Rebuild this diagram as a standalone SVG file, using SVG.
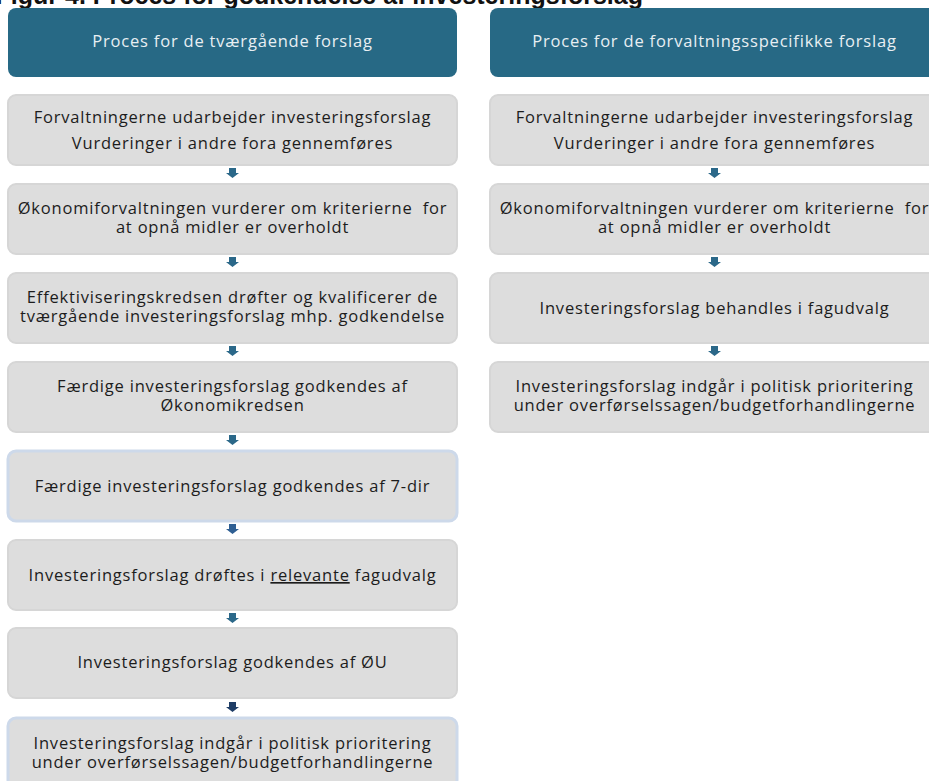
<svg xmlns="http://www.w3.org/2000/svg" width="929" height="781" viewBox="0 0 929 781">
<style>
.title{font-family:"Liberation Sans",Arial,sans-serif;font-weight:bold;font-size:25px;fill:#111}
.hdr{fill:#276985}
.hdrt{font-family:"Open Sans","Noto Sans",sans-serif;font-size:16.5px;letter-spacing:0.8px;fill:#e8eff3;text-anchor:middle}
.box{fill:#dddddd;stroke:#d6d6d6;stroke-width:2}
.boxb{fill:#dddddd;stroke:#cdd9ea;stroke-width:3}
.t{font-family:"Open Sans","Noto Sans",sans-serif;font-size:16.5px;letter-spacing:0.8px;fill:#1c1c1c;text-anchor:middle}
.arr{fill:#2b6889}
</style>
<defs>
<path id="ar" d="M-3.5,-5 H3.5 V0 H6.5 L0,5 L-6.5,0 H-3.5 Z"/>
</defs>
<text class="title" x="643" y="4" text-anchor="end">Figur 4. Proces for godkendelse af investeringsforslag</text>

<g id="header-left"><rect class="hdr" x="8" y="8" width="449" height="69" rx="8"/><text class="hdrt" x="232.5" y="47">Proces for de tværgående forslag</text></g>
<g id="header-right"><rect class="hdr" x="490" y="8" width="449" height="69" rx="8"/><text class="hdrt" x="714.5" y="47">Proces for de forvaltningsspecifikke forslag</text></g>

<g id="l1"><rect class="box" x="8" y="95" width="449" height="70" rx="8"/><text class="t" x="232.5" y="123">Forvaltningerne udarbejder investeringsforslag</text><text class="t" x="232.5" y="149">Vurderinger i andre fora gennemføres</text></g>
<g id="l2"><rect class="box" x="8" y="184" width="449" height="70" rx="8"/><text class="t" x="232.5" y="214" xml:space="preserve">Økonomiforvaltningen vurderer om kriterierne  for</text><text class="t" x="232.5" y="233">at opnå midler er overholdt</text></g>
<g id="l3"><rect class="box" x="8" y="273" width="449" height="70" rx="8"/><text class="t" x="232.5" y="303">Effektiviseringskredsen drøfter og kvalificerer de</text><text class="t" x="232.5" y="322">tværgående investeringsforslag mhp. godkendelse</text></g>
<g id="l4"><rect class="box" x="8" y="362" width="449" height="70" rx="8"/><text class="t" x="232.5" y="392">Færdige investeringsforslag godkendes af</text><text class="t" x="232.5" y="411">Økonomikredsen</text></g>
<g id="l5"><rect class="boxb" x="8" y="451" width="449" height="70" rx="8"/><text class="t" x="232.5" y="492">Færdige investeringsforslag godkendes af 7-dir</text></g>
<g id="l6"><rect class="box" x="8" y="540" width="449" height="70" rx="8"/><text class="t" x="232.5" y="581">Investeringsforslag drøftes i <tspan text-decoration="underline">relevante</tspan> fagudvalg</text></g>
<g id="l7"><rect class="box" x="8" y="628" width="449" height="70" rx="8"/><text class="t" x="232.5" y="668">Investeringsforslag godkendes af ØU</text></g>
<g id="l8"><rect class="boxb" x="8" y="718" width="449" height="70" rx="8"/><text class="t" x="232.5" y="749">Investeringsforslag indgår i politisk prioritering</text><text class="t" x="232.5" y="768">under overførselssagen/budgetforhandlingerne</text></g>

<g id="r1"><rect class="box" x="490" y="95" width="449" height="70" rx="8"/><text class="t" x="714.5" y="123">Forvaltningerne udarbejder investeringsforslag</text><text class="t" x="714.5" y="149">Vurderinger i andre fora gennemføres</text></g>
<g id="r2"><rect class="box" x="490" y="184" width="449" height="70" rx="8"/><text class="t" x="714.5" y="214" xml:space="preserve">Økonomiforvaltningen vurderer om kriterierne  for</text><text class="t" x="714.5" y="233">at opnå midler er overholdt</text></g>
<g id="r3"><rect class="box" x="490" y="273" width="449" height="70" rx="8"/><text class="t" x="714.5" y="314">Investeringsforslag behandles i fagudvalg</text></g>
<g id="r4"><rect class="box" x="490" y="362" width="449" height="70" rx="8"/><text class="t" x="714.5" y="392">Investeringsforslag indgår i politisk prioritering</text><text class="t" x="714.5" y="411">under overførselssagen/budgetforhandlingerne</text></g>

<g id="connectors">
<use href="#ar" class="arr" x="232.5" y="173"/>
<use href="#ar" class="arr" x="232.5" y="262"/>
<use href="#ar" class="arr" x="232.5" y="351"/>
<use href="#ar" class="arr" x="232.5" y="440"/>
<use href="#ar" x="232.5" y="529" fill="#2f5f93"/>
<use href="#ar" class="arr" x="232.5" y="618"/>
<use href="#ar" x="232.5" y="707" fill="#1f3d66"/>
<use href="#ar" class="arr" x="714.5" y="173"/>
<use href="#ar" class="arr" x="714.5" y="262"/>
<use href="#ar" class="arr" x="714.5" y="351"/>
</g>
</svg>
